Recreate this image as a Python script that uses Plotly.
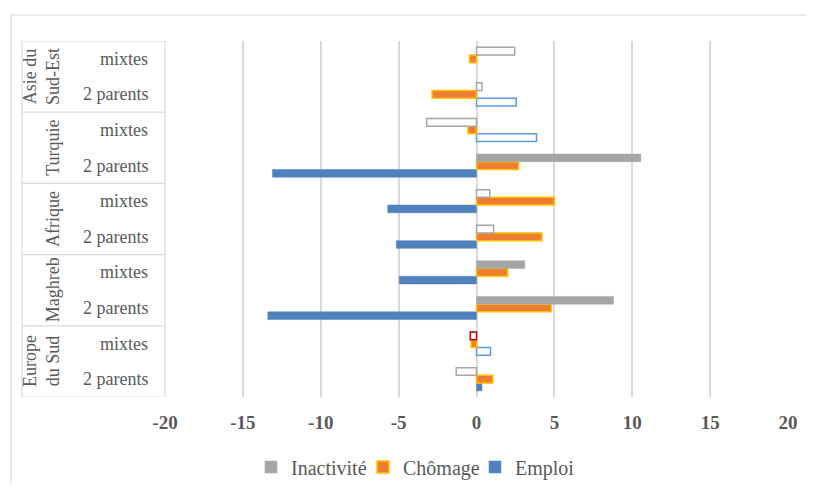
import plotly.graph_objects as go

# ---------------- data ----------------
regions = ["Europe du Sud", "Maghreb", "Afrique", "Turquie", "Asie du Sud-Est"]
region_labels = ["Europe<br>du Sud", "Maghreb", "Afrique", "Turquie", "Asie du<br>Sud-Est"]
subgroups = ["2 parents", "mixtes"]

# order: for each region (bottom to top), "2 parents" then "mixtes"
emploi = [0.35, 0.9, -13.4, -4.95, -5.15, -5.7, -13.1, 3.85, 2.55, None]
chomage = [1.05, -0.35, 4.8, 2.0, 4.2, 5.0, 2.7, -0.55, -2.85, -0.45]
inactivite = [-1.3, -0.4, 8.8, 3.1, 1.1, 0.85, 10.55, -3.2, 0.35, 2.45]

# significant (filled) vs non-significant (outlined) bars
emploi_sig = [True, False, True, True, True, True, True, False, False, False]
inactivite_sig = [False, False, True, True, False, False, True, False, False, False]
inactivite_red = [False, True, False, False, False, False, False, False, False, False]

x_ticks = [-20, -15, -10, -5, 0, 5, 10, 15, 20]

# ---------------- layout helpers ----------------
OFF = 8                      # default page body margin
W, H = 814 - 2 * OFF, 491 - 2 * OFF
# plot area in screen px of the reference
SL, SR, ST, SB = 165, 788, 41, 397
PL, PR, PT, PB = SL - OFF, SR - OFF, ST - OFF, SB - OFF


def px_x(sx):
    return (sx - SL) / (SR - SL)


def px_y(sy):
    return (SB - sy) / (SB - ST)


cats = [f"{r} | {s}" for r in regions for s in subgroups]

GREY = "#A5A5A5"
ORANGE = "#ED7D31"
GOLD = "#FFC000"
BLUE = "#4F81BD"
BLUE_L = "#5B9BD5"
RED = "#C00000"
TXT = "#595959"
GRID = "#D9D9D9"
FONT = "Liberation Serif"


def split(vals, sig):
    filled = [v if s else None for v, s in zip(vals, sig)]
    hollow = [v if not s else None for v, s in zip(vals, sig)]
    return filled, hollow


fig = go.Figure()

e_f, e_h = split(emploi, emploi_sig)
i_f, i_h = split(inactivite, inactivite_sig)

fig.add_trace(go.Bar(y=cats, x=e_f, orientation="h", name="Emploi", offsetgroup="1",
                     marker=dict(color=BLUE, line=dict(color=BLUE, width=0.5))))
fig.add_trace(go.Bar(y=cats, x=e_h, orientation="h", name="Emploi", offsetgroup="1",
                     showlegend=False,
                     marker=dict(color="white", line=dict(color=BLUE_L, width=1.5))))
fig.add_trace(go.Bar(y=cats, x=chomage, orientation="h", name="Chômage", offsetgroup="2",
                     marker=dict(color=ORANGE, line=dict(color=GOLD, width=1.5))))
fig.add_trace(go.Bar(y=cats, x=i_f, orientation="h", name="Inactivité", offsetgroup="3",
                     marker=dict(color=GREY, line=dict(color=GREY, width=0.5))))
fig.add_trace(go.Bar(y=cats, x=i_h, orientation="h", name="Inactivité", offsetgroup="3",
                     showlegend=False,
                     marker=dict(color="white",
                                 line=dict(color=[RED if r else GREY for r in inactivite_red],
                                           width=1.5))))

shapes = []
# outer chart border
shapes.append(dict(type="rect", xref="paper", yref="paper",
                   x0=px_x(11), x1=px_x(840), y0=px_y(540), y1=px_y(15),
                   line=dict(color=GRID, width=1.2), fillcolor="rgba(0,0,0,0)", layer="below"))
# category table lines
tx0, tx1 = px_x(22), px_x(165)
shapes.append(dict(type="line", xref="paper", yref="paper", x0=tx0, x1=tx0, y0=0, y1=1,
                   line=dict(color=GRID, width=1.2)))
shapes.append(dict(type="line", xref="paper", yref="paper", x0=tx1, x1=tx1, y0=0, y1=1,
                   line=dict(color=GRID, width=1.2)))
for k in range(len(regions) + 1):
    yb = -0.5 + 2 * k
    shapes.append(dict(type="line", xref="paper", yref="y", x0=tx0, x1=tx1, y0=yb, y1=yb,
                       line=dict(color=GRID, width=1.2)))

annotations = []
for c, (r, s) in zip(cats, [(r, s) for r in regions for s in subgroups]):
    annotations.append(dict(x=px_x(150), y=c, xref="paper", yref="y", text=s,
                            showarrow=False, xanchor="right", yanchor="middle",
                            font=dict(family=FONT, size=18, color=TXT)))
for i, lab in enumerate(region_labels):
    annotations.append(dict(x=px_x(65), y=2 * i + 0.5, xref="paper", yref="y", text=lab,
                            showarrow=False, textangle=-90, xanchor="right", yanchor="middle",
                            align="center",
                            font=dict(family=FONT, size=18, color=TXT)))

fig.update_layout(
    width=W, height=H,
    margin=dict(l=PL, r=W - PR, t=PT, b=H - PB, pad=0, autoexpand=False),
    paper_bgcolor="white", plot_bgcolor="white",
    barmode="group", bargap=0.35, bargroupgap=0,
    shapes=shapes, annotations=annotations,
    showlegend=True,
    legend=dict(orientation="h", traceorder="reversed",
                x=px_x(419), xanchor="center", y=px_y(467), yanchor="middle",
                font=dict(family=FONT, size=20, color=TXT),
                itemwidth=30, entrywidth=67, entrywidthmode="pixels",
                bgcolor="rgba(0,0,0,0)"),
    xaxis=dict(range=[-20, 20], tickvals=x_ticks, ticktext=[str(t) for t in x_ticks],
               showgrid=True, gridcolor=GRID, gridwidth=1.5,
               zeroline=True, zerolinecolor=GRID, zerolinewidth=1.5,
               showline=False, ticks="", ticklabelstandoff=12, automargin=False,
               tickfont=dict(family=FONT, size=19, color=TXT, weight="bold"),
               fixedrange=True),
    yaxis=dict(type="category", categoryorder="array", categoryarray=cats,
               range=[-0.5, len(cats) - 0.5], showticklabels=False, showgrid=False,
               zeroline=False, showline=False, ticks="", automargin=False, fixedrange=True),
)

fig.write_html("out.html")
